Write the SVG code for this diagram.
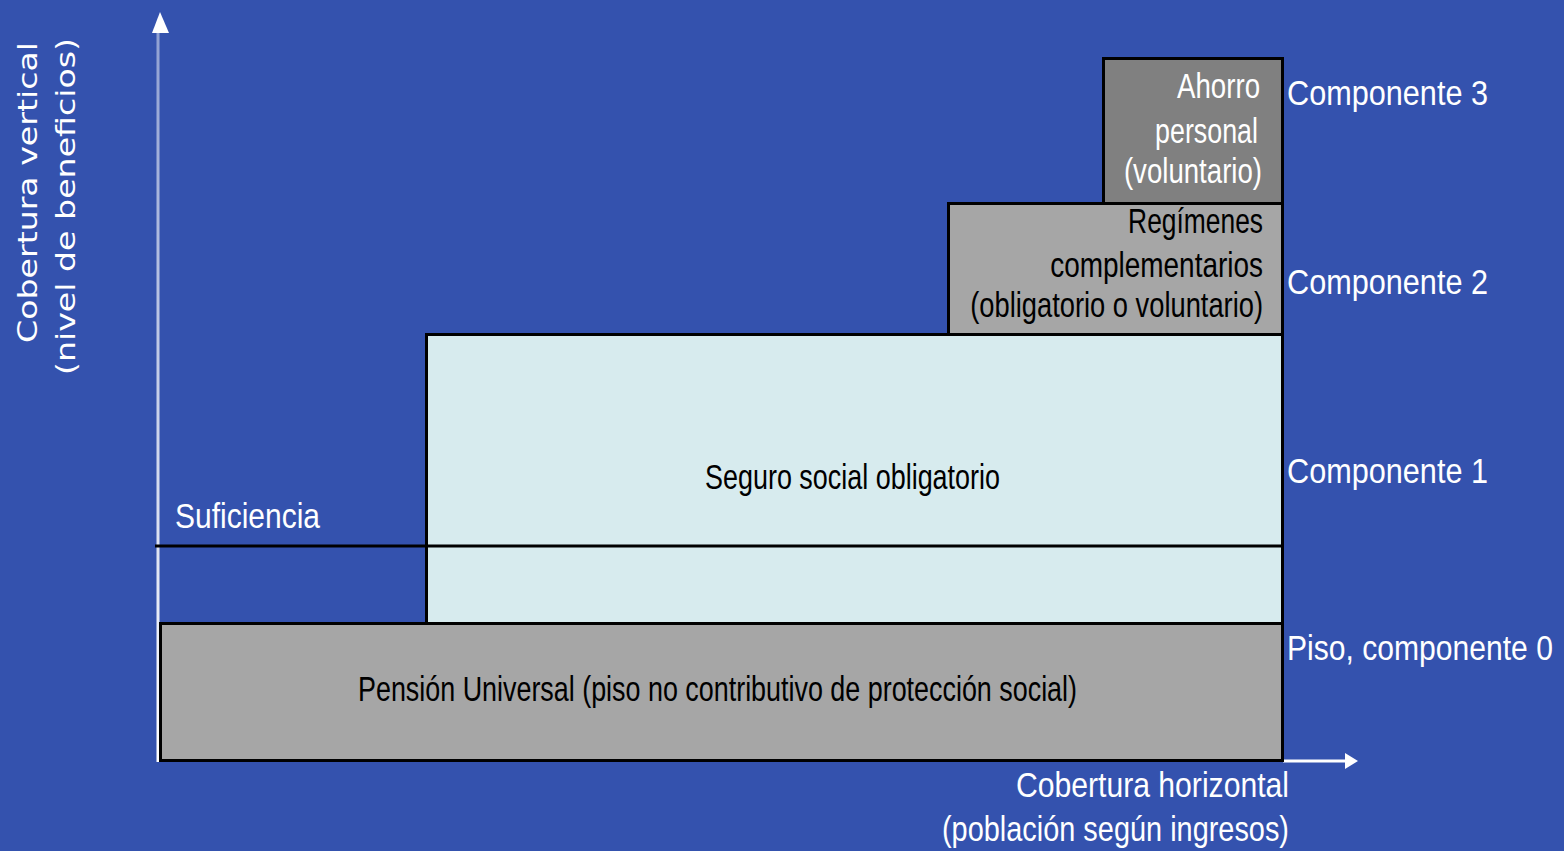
<svg xmlns="http://www.w3.org/2000/svg" width="1564" height="851" viewBox="0 0 1564 851">
<style>
  .box { stroke: #000; stroke-width: 3; }
  .cal { font-family: "Liberation Sans", Arial, sans-serif; font-size: 35px; }
  .w { fill: #ffffff; }
  .k { fill: #000000; }
  .vert { font-family: "DejaVu Sans", sans-serif; font-size: 27px; fill: #ffffff; }
</style>
<defs>
  <linearGradient id="axisGrad" gradientUnits="userSpaceOnUse" x1="0" y1="762" x2="0" y2="28">
    <stop offset="0" stop-color="#ffffff"/>
    <stop offset="1" stop-color="#ffffff" stop-opacity="0.45"/>
  </linearGradient>
</defs>
<rect x="0" y="0" width="1564" height="851" fill="#3452AE"/>

<g id="ejes">
  <rect x="156.5" y="28" width="3" height="734" fill="url(#axisGrad)"/>
  <polygon points="160,12 152,33 169,33" fill="#ffffff"/>
  <line x1="1283" y1="761" x2="1345" y2="761" stroke="#ffffff" stroke-width="3"/>
  <polygon points="1358,761 1345,753 1345,769" fill="#ffffff"/>
</g>

<g id="pension">
  <rect class="box" x="160.5" y="623.5" width="1122" height="137" fill="#A6A6A6"/>
  <text class="cal k" x="358" y="701" textLength="719" lengthAdjust="spacingAndGlyphs">Pensión Universal  (piso no contributivo de protección social)</text>
</g>

<g id="seguro">
  <rect class="box" x="426.5" y="334.5" width="856" height="289" fill="#D7EBEE"/>
  <text class="cal k" x="705" y="489" textLength="295" lengthAdjust="spacingAndGlyphs">Seguro social obligatorio</text>
</g>

<g id="regimenes">
  <rect class="box" x="948.5" y="203.5" width="334" height="131" fill="#A6A6A6"/>
  <text class="cal k" transform="translate(1263,233) scale(0.754,1)" text-anchor="end">Regímenes</text>
  <text class="cal k" transform="translate(1263,277) scale(0.799,1)" text-anchor="end">complementarios</text>
  <text class="cal k" transform="translate(1263,317) scale(0.78,1)" text-anchor="end">(obligatorio o voluntario)</text>
</g>

<g id="ahorro">
  <rect class="box" x="1103.5" y="58.5" width="179" height="145" fill="#808080"/>
  <text class="cal w" transform="translate(1260,98) scale(0.79,1)" text-anchor="end">Ahorro</text>
  <text class="cal w" transform="translate(1258,143) scale(0.767,1)" text-anchor="end">personal</text>
  <text class="cal w" transform="translate(1262,183) scale(0.789,1)" text-anchor="end">(voluntario)</text>
</g>

<g id="suficiencia">
  <line x1="155" y1="546" x2="1283" y2="546" stroke="#000" stroke-width="3"/>
  <text class="cal w" x="175" y="528" textLength="145" lengthAdjust="spacingAndGlyphs">Suficiencia</text>
</g>

<g id="componentes">
  <text class="cal w" x="1287" y="105" textLength="201" lengthAdjust="spacingAndGlyphs">Componente 3</text>
  <text class="cal w" x="1287" y="294" textLength="201" lengthAdjust="spacingAndGlyphs">Componente 2</text>
  <text class="cal w" x="1287" y="483" textLength="201" lengthAdjust="spacingAndGlyphs">Componente 1</text>
  <text class="cal w" transform="translate(1287,660) scale(0.86,1)">Piso, componente 0</text>
</g>

<g id="eje-horizontal-etiqueta">
  <text class="cal w" x="1016" y="797" textLength="273" lengthAdjust="spacingAndGlyphs">Cobertura horizontal</text>
  <text class="cal w" x="942" y="841" textLength="347" lengthAdjust="spacingAndGlyphs">(población según ingresos)</text>
</g>

<g id="eje-vertical-etiqueta">
  <text class="vert" transform="translate(37,343) rotate(-90)" textLength="301" lengthAdjust="spacingAndGlyphs">Cobertura vertical</text>
  <text class="vert" transform="translate(75,375) rotate(-90)" textLength="337" lengthAdjust="spacingAndGlyphs">(nivel de beneficios)</text>
</g>
</svg>
